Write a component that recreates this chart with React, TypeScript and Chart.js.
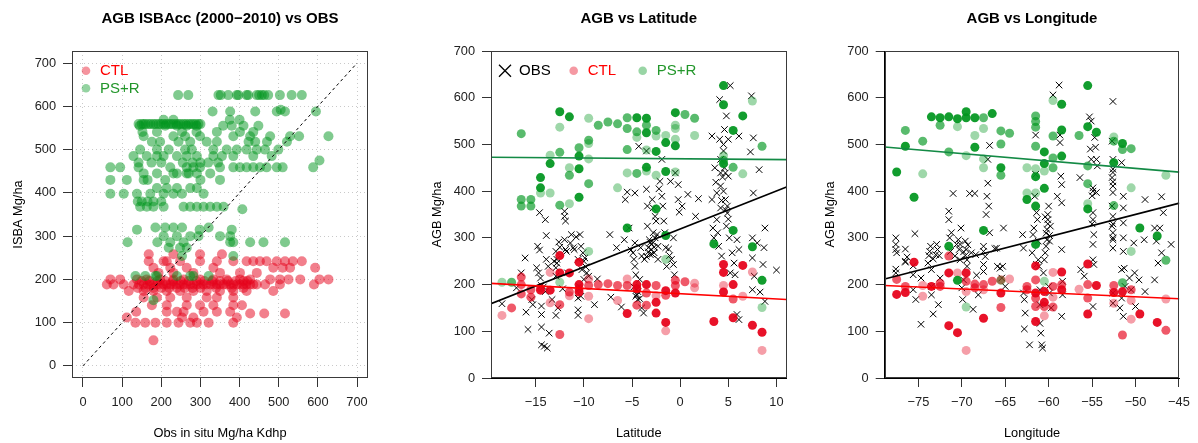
import React, { useEffect, useRef } from 'react';
import { Chart, registerables } from 'chart.js';

Chart.register(...registerables);

const FONT = '"Liberation Sans", Arial, Helvetica, sans-serif';
const MINUS = '\u2212';
const AXIS_FONT_SIZE = 12.8;

// ---------- titles / labels ----------
const TITLE_SCATTER = 'AGB ISBAcc (2000\u22122010) vs OBS';
const TITLE_LAT = 'AGB vs Latitude';
const TITLE_LON = 'AGB vs Longitude';
const SERIES_OBS = 'OBS';
const SERIES_CTL = 'CTL';
const SERIES_PSR = 'PS+R';

// ---------- ticks and ranges ----------
const OBS_TICKS = [0, 100, 200, 300, 400, 500, 600, 700];
const AGB_TICKS = [0, 100, 200, 300, 400, 500, 600, 700];
const LAT_TICKS = [-15, -10, -5, 0, 5, 10];
const LON_TICKS = [-75, -70, -65, -60, -55, -50, -45];
const SCAT_RANGE = [-28, 728];
const AGB_RANGE = [0, 700];
const LAT_RANGE = [-19.64, 11.04];
const LON_RANGE = [-78.88, -44.95];
const ONE_TO_ONE = [0, 700];

// ---------- panel 1: model (row value) vs obs (x list) ----------
const SCAT_PSR_ROWS: [number, number[]][] = [
  [626, [243, 269, 346, 352, 371, 393, 397, 418, 422, 444, 450, 457, 463, 473, 503, 533, 559]],
  [588, [331, 376, 440, 495, 516, 595]],
  [592, [505]],
  [569, [206, 231, 375, 400]],
  [559, [142, 150, 155, 160, 167, 173, 180, 186, 193, 199, 206, 212, 219, 225, 231, 238, 244, 250, 257, 263, 270, 276, 282, 288, 295, 300]],
  [555, [145, 210, 240, 265, 290, 358, 380, 410, 448]],
  [541, [152, 189, 253, 290, 342, 401, 435]],
  [531, [155, 231, 261, 299, 384, 427, 478, 529, 552, 627]],
  [518, [176, 197, 244, 274, 316, 342, 423, 440, 470, 521]],
  [500, [146, 189, 219, 261, 278, 333, 367, 393, 418, 444, 465, 499]],
  [485, [129, 163, 189, 206, 240, 265, 291, 333, 355, 384, 435, 482]],
  [470, [142, 175, 200, 255, 280, 300, 320, 345]],
  [459, [70, 95, 142, 223, 265, 282, 299, 350, 384, 401, 418, 435, 452, 469, 495, 510, 588]],
  [475, [604]],
  [445, [155, 189, 231, 240, 265, 270, 291, 325]],
  [430, [70, 112, 155, 165, 210, 300, 350]],
  [411, [189, 214, 240, 274, 291]],
  [398, [70, 104, 138, 172, 206, 231, 253, 308]],
  [380, [140, 150, 165, 180, 200]],
  [368, [146, 163, 180, 206, 257, 274, 291, 308, 325, 342, 359]],
  [362, [407]],
  [320, [185, 210, 231, 253, 321]],
  [315, [138, 298, 380]],
  [300, [206, 240, 274, 295, 350, 376]],
  [286, [114, 190, 223, 257, 376, 384, 427, 461, 516]],
  [273, [219, 248, 265]],
  [254, [253, 384]],
  [208, [134, 159, 185, 189, 240, 274, 282, 321]],
  [152, [180]],
];

const SCAT_CTL_ROWS: [number, number[]][] = [
  [258, [168, 231, 299, 355]],
  [242, [168, 206, 214, 248, 299, 342, 384, 418, 435, 452, 469, 495, 516, 536, 559]],
  [227, [180, 223, 265, 333, 486, 510, 529, 593]],
  [215, [193, 231, 282, 350, 401, 444]],
  [200, [70, 95, 138, 163, 197, 231, 257, 299, 333, 367, 401, 427, 478, 503, 525, 555, 604, 627]],
  [196, [150, 170, 190, 210, 230, 250, 270, 290, 310, 330, 350, 370, 390, 410, 420]],
  [188, [61, 78, 104, 129, 143, 155, 165, 172, 180, 189, 197, 206, 214, 223, 231, 240, 248, 257, 265, 274, 282, 291, 300, 308, 316, 325, 333, 342, 350, 359, 367, 376, 384, 393, 401, 410, 418, 427, 435, 444, 465, 503, 590]],
  [180, [140, 160, 180, 200, 220, 240, 260, 280, 300, 340, 380, 410]],
  [173, [117, 155, 180, 214, 248, 282, 316, 350, 384, 418, 486]],
  [158, [155, 189, 223, 265, 316, 342, 384]],
  [140, [176, 214, 265, 299, 333, 384, 406]],
  [125, [136, 214, 240, 257, 308, 342, 376]],
  [121, [427, 463, 516]],
  [112, [112, 253, 282, 393]],
  [100, [134, 159, 185, 214, 244, 274, 291, 321, 384]],
  [59, [180]],
];

// ---------- panel 2: latitude (lat, agb, overlap level) ----------
const LAT_PSR: [number, number, number][] = [
  [-18.5, 205, 1], [-17.5, 205, 2], [-16.5, 523, 2], [-16.5, 382, 2], [-16.5, 368, 2], [-15.5, 382, 2], [-15.5, 368, 2],
  [-14.5, 429, 3], [-14.5, 407, 3], [-14.5, 396, 1],
  [-13.5, 477, 1], [-13.5, 459, 3], [-13.5, 396, 1],
  [-12.5, 570, 3], [-12.5, 537, 1], [-12.5, 483, 2], [-12.5, 370, 2], [-12.5, 205, 1],
  [-11.5, 559, 3], [-11.5, 450, 1], [-11.5, 434, 2], [-11.5, 373, 1],
  [-10.5, 493, 2], [-10.5, 475, 3], [-10.5, 448, 3], [-10.5, 387, 3],
  [-9.5, 556, 1], [-9.5, 509, 2], [-9.5, 502, 1], [-9.5, 469, 1], [-9.5, 416, 2], [-9.5, 271, 1],
  [-8.5, 541, 2], [-7.5, 548, 2], [-6.5, 544, 2], [-6.5, 407, 1],
  [-5.5, 557, 2], [-5.5, 534, 2], [-5.5, 489, 2], [-5.5, 439, 1], [-5.5, 321, 3],
  [-4.5, 557, 3], [-4.5, 527, 2], [-4.5, 515, 1], [-4.5, 438, 2],
  [-3.5, 556, 3], [-3.5, 541, 2], [-3.5, 525, 3], [-3.5, 488, 1], [-3.5, 451, 3], [-3.5, 443, 1],
  [-2.5, 530, 2], [-2.5, 518, 1], [-2.5, 485, 3], [-2.5, 434, 1], [-2.5, 362, 3],
  [-1.5, 519, 1], [-1.5, 504, 3], [-1.5, 442, 3], [-1.5, 305, 3], [-1.5, 254, 1],
  [-0.5, 568, 3], [-0.5, 541, 1], [-0.5, 534, 1], [-0.5, 511, 1], [-0.5, 497, 3], [-0.5, 441, 1],
  [0.5, 564, 2], [1.5, 556, 2], [1.5, 519, 1],
  [3.5, 287, 3],
  [4.5, 626, 3], [4.5, 585, 3], [4.5, 476, 1], [4.5, 466, 2], [4.5, 459, 3],
  [5.5, 530, 3], [5.5, 451, 2], [5.5, 316, 3],
  [6.5, 561, 3], [6.5, 437, 1],
  [7.5, 593, 1], [7.5, 281, 3],
  [8.5, 496, 2], [8.5, 209, 3], [8.5, 151, 1],
];

const LAT_CTL: [number, number, number][] = [
  [-18.5, 134, 1], [-17.5, 150, 2], [-16.5, 216, 2], [-16.5, 200, 2], [-16.5, 180, 2],
  [-15.5, 189, 2], [-15.5, 173, 2],
  [-14.5, 188, 3], [-14.5, 193, 2],
  [-13.5, 226, 1], [-13.5, 188, 3], [-13.5, 161, 1],
  [-12.5, 262, 3], [-12.5, 225, 3], [-12.5, 157, 2], [-12.5, 93, 2],
  [-11.5, 225, 3], [-11.5, 184, 2], [-11.5, 176, 1],
  [-10.5, 248, 3], [-10.5, 200, 3], [-10.5, 184, 3], [-10.5, 191, 2],
  [-9.5, 212, 1], [-9.5, 198, 2], [-9.5, 175, 1], [-9.5, 127, 1],
  [-8.5, 200, 2], [-7.5, 202, 2],
  [-6.5, 198, 2], [-6.5, 166, 1],
  [-5.5, 212, 1], [-5.5, 198, 2], [-5.5, 138, 3],
  [-4.5, 200, 3], [-4.5, 191, 3], [-4.5, 156, 2],
  [-3.5, 200, 3], [-3.5, 182, 2], [-3.5, 156, 2],
  [-2.5, 198, 2], [-2.5, 176, 1], [-2.5, 162, 3], [-2.5, 139, 3],
  [-1.5, 187, 3], [-1.5, 177, 2], [-1.5, 119, 3], [-1.5, 101, 1],
  [-0.5, 209, 2], [-0.5, 198, 2], [-0.5, 182, 3],
  [0.5, 206, 2], [1.5, 203, 1], [1.5, 193, 1],
  [3.5, 121, 3],
  [4.5, 243, 3], [4.5, 226, 3], [4.5, 198, 1], [4.5, 184, 3],
  [5.5, 200, 3], [5.5, 169, 2], [5.5, 129, 3],
  [6.5, 241, 3], [6.5, 175, 1],
  [7.5, 227, 1], [7.5, 113, 3],
  [8.5, 98, 3], [8.5, 59, 1],
];

const LAT_OBS: [number, number][] = [
  [-18.5, 159], [-17.0, 193], [-16.5, 225], [-16.1, 257], [-16.0, 141], [-15.8, 104], [-15.4, 168], [-15.3, 157],
  [-14.8, 282], [-14.6, 274], [-14.6, 354], [-14.9, 236], [-14.7, 225], [-14.5, 214], [-14.4, 198], [-14.4, 154], [-14.4, 136], [-14.4, 109], [-14.4, 71], [-14.1, 68], [-14.0, 339], [-13.9, 305], [-13.9, 254], [-13.7, 239], [-13.6, 96], [-13.8, 64], [-13.3, 168], [-13.1, 250],
  [-12.9, 236], [-12.8, 246], [-12.9, 271], [-12.8, 254], [-12.9, 218], [-12.9, 134], [-12.7, 150], [-12.6, 291], [-12.2, 191], [-12.0, 296], [-12.0, 357], [-12.0, 346], [-11.9, 336], [-11.8, 271], [-11.7, 225], [-11.4, 289], [-11.3, 307], [-11.1, 279], [-11.0, 275], [-10.8, 302], [-10.6, 254], [-10.6, 171], [-10.6, 146], [-10.6, 134], [-10.5, 196], [-10.4, 307], [-10.3, 282], [-10.2, 232], [-10.1, 268], [-10.0, 211], [-9.9, 257], [-9.8, 238], [-9.7, 225], [-9.5, 218], [-8.9, 157], [-8.6, 212], [-7.3, 307], [-7.2, 173], [-6.6, 279], [-6.1, 152],
  [-5.8, 296], [-5.7, 382], [-5.5, 398], [-5.3, 321], [-5.1, 274], [-4.9, 268], [-4.8, 254], [-4.7, 289], [-4.7, 396], [-4.7, 239], [-4.6, 221], [-4.5, 189], [-4.5, 179], [-4.4, 168], [-4.3, 496], [-4.2, 211], [-4.1, 279], [-4.0, 261], [-4.0, 150], [-3.8, 139], [-3.7, 254], [-3.5, 486], [-3.5, 404], [-3.4, 368], [-3.4, 325], [-3.3, 279], [-3.2, 296], [-3.1, 264], [-3.0, 286], [-2.9, 382], [-2.8, 364], [-2.8, 311], [-2.7, 268], [-2.6, 346], [-2.5, 336], [-2.4, 307], [-2.3, 282], [-2.3, 254], [-2.2, 405], [-2.1, 421], [-1.9, 468], [-1.9, 389], [-1.8, 368], [-1.7, 336], [-1.6, 311], [-1.5, 279], [-1.4, 239], [-1.2, 276], [-1.1, 262], [-1.0, 421], [-0.9, 254], [-0.7, 243], [-0.7, 300], [-0.6, 221], [-0.5, 439], [-0.2, 414], [-0.2, 382], [-0.1, 355], [0.2, 368], [0.8, 393], [1.6, 346], [1.9, 384],
  [3.3, 518], [3.3, 382], [3.4, 321], [3.5, 300], [3.6, 450], [3.7, 419], [3.8, 396], [3.8, 339], [3.9, 311], [4.0, 282], [4.1, 596], [4.1, 511], [4.2, 468], [4.2, 439], [4.2, 411], [4.2, 364], [4.3, 261], [4.5, 500], [4.5, 486], [4.6, 532], [4.7, 439], [4.7, 382], [4.8, 561], [4.8, 325], [4.9, 368], [4.9, 353], [5.0, 511], [5.0, 432], [5.1, 300], [5.2, 626], [5.2, 225], [5.4, 268], [5.6, 246], [5.7, 221], [5.9, 296], [6.1, 518], [6.1, 275], [6.1, 125], [5.9, 136],
  [7.3, 484], [7.4, 604], [7.5, 300], [7.5, 257], [7.6, 396], [7.6, 514], [7.5, 189], [7.7, 218], [8.0, 289], [8.2, 446], [8.3, 184], [8.6, 243], [8.7, 279], [8.8, 321], [8.8, 164], [10.0, 231],
  [-3.3, 270], [-3.0, 275], [-2.8, 290], [-2.6, 300], [-3.5, 260], [-2.7, 280], [-3.1, 290], [-2.9, 265], [-4.4, 185], [-4.6, 175], [-4.8, 195], [-4.2, 170], [-10.5, 190], [-10.3, 175], [-10.0, 250], [-11.9, 275], [-12.5, 280], [-14.2, 195], [-14.0, 185], [4.5, 400], [4.3, 380], [4.7, 360], [5.0, 340], [4.4, 430], [4.6, 450],
];

// regression lines: [intercept, slope]
const LAT_FIT_OBS = [318.8, 8.136];
const LAT_FIT_CTL = [180.4, -1.1245];
const LAT_FIT_PSR = [469.2, -0.163];

// ---------- panel 3: longitude ----------
const LON_PSR: [number, number, number][] = [
  [-77.5, 441, 3],
  [-76.5, 530, 2], [-76.5, 496, 3],
  [-75.5, 387, 3],
  [-74.5, 507, 2], [-74.5, 437, 1],
  [-73.5, 559, 3],
  [-72.5, 557, 3], [-72.5, 541, 2],
  [-71.5, 559, 3], [-71.5, 484, 2], [-71.5, 282, 3],
  [-70.5, 555, 3], [-70.5, 538, 1], [-70.5, 209, 3],
  [-69.5, 570, 3], [-69.5, 557, 3], [-69.5, 476, 1], [-69.5, 152, 1],
  [-68.5, 557, 3], [-68.5, 519, 1], [-68.5, 494, 3],
  [-67.5, 557, 2], [-67.5, 534, 1], [-67.5, 469, 1], [-67.5, 450, 1], [-67.5, 316, 3],
  [-66.5, 566, 3],
  [-65.5, 529, 2], [-65.5, 501, 2], [-65.5, 450, 3], [-65.5, 434, 2], [-65.5, 209, 1],
  [-64.5, 524, 2],
  [-62.5, 450, 1], [-62.5, 396, 1], [-62.5, 382, 3],
  [-61.5, 561, 2], [-61.5, 549, 2], [-61.5, 537, 2], [-61.5, 496, 2], [-61.5, 448, 1], [-61.5, 431, 3], [-61.5, 396, 1], [-61.5, 368, 3], [-61.5, 286, 3],
  [-60.5, 484, 3], [-60.5, 459, 3], [-60.5, 443, 1], [-60.5, 406, 3], [-60.5, 207, 1],
  [-59.5, 594, 1], [-59.5, 518, 2], [-59.5, 471, 2], [-59.5, 450, 2],
  [-58.5, 586, 3], [-58.5, 531, 3], [-58.5, 475, 3],
  [-56.5, 519, 2],
  [-55.5, 626, 3], [-55.5, 538, 3], [-55.5, 454, 2], [-55.5, 416, 2], [-55.5, 373, 1], [-55.5, 362, 3],
  [-54.5, 526, 3],
  [-52.5, 516, 1], [-52.5, 507, 2], [-52.5, 461, 3], [-52.5, 369, 2],
  [-51.5, 502, 3], [-51.5, 489, 2], [-51.5, 204, 2],
  [-50.5, 491, 2], [-50.5, 407, 1], [-50.5, 271, 1],
  [-49.5, 321, 3],
  [-47.5, 304, 3],
  [-46.5, 434, 1], [-46.5, 252, 2],
];

const LON_CTL: [number, number, number][] = [
  [-77.5, 211, 2], [-77.5, 179, 3],
  [-76.5, 196, 2], [-76.5, 183, 3],
  [-75.5, 248, 3],
  [-74.5, 198, 1], [-74.5, 175, 1],
  [-73.5, 196, 3],
  [-72.5, 203, 2], [-72.5, 196, 2],
  [-71.5, 261, 2], [-71.5, 225, 3], [-71.5, 112, 3],
  [-70.5, 225, 1], [-70.5, 97, 3],
  [-69.5, 225, 3], [-69.5, 207, 2], [-69.5, 185, 1], [-69.5, 59, 1],
  [-68.5, 201, 2], [-68.5, 193, 2],
  [-67.5, 200, 2], [-67.5, 189, 1], [-67.5, 128, 3],
  [-66.5, 207, 2],
  [-65.5, 210, 2], [-65.5, 182, 3], [-65.5, 151, 2],
  [-64.5, 212, 1],
  [-62.5, 196, 2], [-62.5, 189, 2],
  [-61.5, 240, 3], [-61.5, 210, 2], [-61.5, 182, 3], [-61.5, 171, 2], [-61.5, 153, 2], [-61.5, 121, 3],
  [-60.5, 185, 3], [-60.5, 162, 3], [-60.5, 153, 2], [-60.5, 133, 1],
  [-59.5, 226, 1], [-59.5, 196, 2], [-59.5, 173, 1], [-59.5, 152, 2],
  [-58.5, 227, 3], [-58.5, 200, 2], [-58.5, 189, 3],
  [-56.5, 190, 1],
  [-55.5, 244, 3], [-55.5, 200, 2], [-55.5, 171, 2], [-55.5, 137, 3],
  [-54.5, 198, 3],
  [-52.5, 198, 2], [-52.5, 183, 3], [-52.5, 160, 1],
  [-51.5, 185, 3], [-51.5, 92, 2],
  [-50.5, 189, 2], [-50.5, 166, 1], [-50.5, 126, 1],
  [-49.5, 137, 3],
  [-47.5, 119, 3],
  [-46.5, 169, 1], [-46.5, 102, 2],
];

const LON_OBS: [number, number][] = [
  [-77.6, 300], [-77.6, 286], [-77.6, 275], [-77.5, 268], [-77.6, 233], [-77.6, 225],
  [-76.5, 276], [-76.5, 250], [-76.3, 259], [-76.5, 248], [-75.4, 309], [-75.6, 240], [-75.6, 221], [-75.6, 189], [-74.7, 115], [-74.7, 214], [-75.3, 168],
  [-73.9, 246], [-73.7, 271], [-73.6, 282], [-73.5, 232], [-73.5, 196], [-73.5, 178], [-73.3, 137], [-73.0, 264], [-72.9, 286], [-72.7, 157], [-72.5, 214], [-72.8, 275],
  [-71.5, 357], [-71.5, 339], [-71.4, 300], [-71.3, 271], [-71.2, 311], [-71.0, 395], [-70.8, 261], [-70.6, 286], [-70.4, 296], [-70.2, 286], [-70.1, 321], [-70.2, 253], [-70.0, 193], [-69.9, 168], [-69.8, 210], [-69.6, 293], [-69.5, 275], [-69.4, 253], [-69.4, 239], [-69.1, 395], [-68.9, 268], [-68.5, 395], [-68.4, 264], [-68.7, 147], [-68.3, 220], [-68.1, 178],
  [-67.5, 282], [-67.5, 271], [-67.3, 260], [-67.5, 243], [-67.5, 228], [-67.2, 350], [-67.1, 389], [-67.0, 417], [-66.9, 368], [-66.8, 498], [-66.8, 311], [-67.0, 468], [-66.2, 277], [-66.0, 278], [-65.9, 239], [-65.6, 235], [-65.4, 214], [-65.2, 321], [-65.3, 239], [-65.0, 196],
  [-63.0, 307], [-62.9, 278], [-62.9, 182], [-62.8, 168], [-62.7, 139], [-62.8, 105], [-62.2, 71], [-61.9, 268], [-61.8, 307], [-61.7, 321], [-61.6, 389], [-61.5, 520], [-61.5, 436], [-61.4, 354], [-61.3, 339], [-61.2, 293], [-61.2, 253], [-61.1, 239], [-61.0, 189], [-61.0, 157], [-61.0, 117], [-60.9, 96], [-60.8, 71], [-60.7, 64], [-60.6, 225], [-60.5, 253], [-60.4, 268], [-60.3, 282], [-60.2, 296], [-60.2, 318], [-60.1, 339], [-60.1, 350], [-60.0, 368], [-60.0, 196], [-59.9, 182], [-59.9, 293], [-59.8, 325], [-59.7, 150], [-59.5, 606], [-59.0, 389], [-58.8, 627], [-58.7, 520], [-58.7, 504], [-58.6, 432], [-58.5, 414], [-58.5, 375], [-58.5, 275], [-58.4, 207], [-58.5, 132], [-58.4, 178],
  [-56.4, 429], [-56.3, 232], [-55.9, 218], [-55.3, 559], [-55.1, 550], [-55.2, 490], [-55.1, 468], [-54.9, 407], [-54.9, 400], [-54.9, 354], [-54.9, 339], [-54.8, 307], [-54.9, 286], [-54.9, 253], [-54.8, 243], [-54.9, 153], [-54.7, 515], [-54.6, 494], [-54.5, 468], [-54.5, 397], [-54.4, 454],
  [-52.6, 592], [-52.7, 507], [-52.6, 468], [-52.6, 447], [-52.7, 429], [-52.6, 411], [-52.6, 397], [-52.7, 368], [-52.6, 346], [-52.7, 325], [-52.6, 311], [-52.6, 296], [-52.6, 278], [-52.6, 182], [-52.6, 160], [-51.8, 150], [-51.6, 232], [-51.6, 461], [-51.4, 389], [-51.4, 364], [-51.4, 332], [-51.4, 300], [-51.4, 271], [-51.3, 235], [-51.2, 196], [-51.6, 171], [-51.4, 132],
  [-50.7, 214], [-50.5, 189], [-50.2, 289], [-50.1, 225], [-50.0, 153], [-49.6, 210], [-48.9, 382], [-49.0, 296], [-48.9, 185], [-47.8, 321], [-47.8, 210], [-47.6, 293], [-47.4, 246], [-47.0, 268], [-47.0, 388], [-47.2, 321], [-46.8, 354], [-45.9, 286],
  [-69.8, 270], [-69.6, 262], [-70.3, 275], [-69.3, 285], [-60.3, 310], [-60.1, 330], [-60.4, 345], [-59.9, 305], [-52.6, 300], [-52.6, 330], [-52.6, 420], [-52.6, 440], [-73.3, 255], [-72.6, 262], [-73.8, 262], [-61.4, 243], [-55.0, 390], [-55.0, 330],
];

const LON_FIT_OBS = [589.3, 4.783];
const LON_FIT_CTL = [131.98, -0.837];
const LON_FIT_PSR = [369.6, -1.583];

// ---------- styling ----------
const RED = [230, 0, 25];
const GREEN = [0, 150, 30];
const LEVEL_ALPHA = [0, 0.38, 0.65, 0.93];

const rgba = (c: number[], a: number) => `rgba(${c[0]},${c[1]},${c[2]},${a})`;
const fmt = (v: number) => (v < 0 ? MINUS + Math.abs(v) : String(v));

const plotBox = {
  id: 'plotBox',
  afterDatasetsDraw(chart: any) {
    const { ctx, chartArea } = chart;
    const l = Math.round(chartArea.left) + 0.5;
    const t = Math.round(chartArea.top) + 0.5;
    const r = Math.round(chartArea.right) - 0.5;
    const b = Math.round(chartArea.bottom) - 0.5;
    ctx.save();
    ctx.strokeStyle = '#3a3a3a';
    ctx.lineWidth = 1;
    ctx.setLineDash([]);
    ctx.strokeRect(l, t, r - l, b - t);
    ctx.restore();
  },
};

const insetLegend = {
  id: 'insetLegend',
  afterDraw(chart: any, _args: any, opts: any) {
    if (!opts || !opts.items) return;
    const { ctx, chartArea } = chart;
    ctx.save();
    ctx.font = `15px ${FONT}`;
    ctx.textBaseline = 'middle';
    ctx.textAlign = 'left';
    for (const it of opts.items) {
      const x = chartArea.left + it.dx;
      const y = chartArea.top + it.dy;
      if (it.marker === 'cross') {
        ctx.strokeStyle = it.color;
        ctx.lineWidth = 1.3;
        ctx.beginPath();
        ctx.moveTo(x - 6, y - 6);
        ctx.lineTo(x + 6, y + 6);
        ctx.moveTo(x - 6, y + 6);
        ctx.lineTo(x + 6, y - 6);
        ctx.stroke();
      } else {
        ctx.fillStyle = it.color;
        ctx.beginPath();
        ctx.arc(x, y, 4.3, 0, Math.PI * 2);
        ctx.fill();
      }
      ctx.fillStyle = it.textColor;
      ctx.fillText(it.label, x + 14, y + 0.5);
    }
    ctx.restore();
  },
};

function xAxis(range: number[], ticks: number[], title: string, gridOnArea: boolean, border: boolean) {
  return {
    type: 'linear',
    position: 'bottom',
    min: range[0],
    max: range[1],
    afterBuildTicks: (s: any) => { s.ticks = ticks.map((v) => ({ value: v })); },
    afterFit: (s: any) => { s.height = 65; },
    ticks: {
      callback: (v: any) => fmt(Number(v)),
      color: '#222',
      font: { family: FONT, size: AXIS_FONT_SIZE },
      padding: 8.2,
      maxRotation: 0,
      minRotation: 0,
      autoSkip: false,
    },
    grid: {
      display: true,
      drawOnChartArea: gridOnArea,
      color: '#c9c9c9',
      lineWidth: 1,
      drawTicks: true,
      tickLength: 9,
      tickColor: '#333',
      tickWidth: 1,
      tickBorderDash: [],
    },
    border: { display: border, color: '#000', width: 1, dash: gridOnArea ? [1, 3] : [] },
    title: { display: true, text: title, color: '#000', font: { family: FONT, size: AXIS_FONT_SIZE }, padding: { top: 0, bottom: 2.3 } },
  };
}

function yAxis(range: number[], ticks: number[], title: string, gridOnArea: boolean, border: boolean) {
  return {
    type: 'linear',
    position: 'left',
    min: range[0],
    max: range[1],
    afterBuildTicks: (s: any) => { s.ticks = ticks.map((v) => ({ value: v })); },
    afterFit: (s: any) => { s.width = 72; },
    ticks: {
      callback: (v: any) => fmt(Number(v)),
      color: '#222',
      font: { family: FONT, size: AXIS_FONT_SIZE },
      padding: 7,
      autoSkip: false,
    },
    grid: {
      display: true,
      drawOnChartArea: gridOnArea,
      color: '#c9c9c9',
      lineWidth: 1,
      drawTicks: true,
      tickLength: 9,
      tickColor: '#333',
      tickWidth: 1,
      tickBorderDash: [],
    },
    border: { display: border, color: '#000', width: 1, dash: gridOnArea ? [1, 3] : [] },
    title: { display: true, text: title, color: '#000', font: { family: FONT, size: AXIS_FONT_SIZE }, padding: { top: 10.3, bottom: 0 } },
  };
}

function titleOpts(text: string) {
  return {
    display: true,
    text,
    color: '#000',
    fullSize: false,
    font: { family: FONT, size: 15, weight: 'bold' },
    padding: { top: 10, bottom: 23 },
  };
}

function baseOptions(padLeft: number, padRight: number, title: string, legendItems: any[] | null, scales: any) {
  return {
    responsive: false,
    animation: false,
    events: [],
    layout: { padding: { left: padLeft, right: padRight, top: 0, bottom: 0 } },
    plugins: {
      legend: { display: false },
      tooltip: { enabled: false },
      title: titleOpts(title),
      insetLegend: { items: legendItems },
    },
    scales,
  };
}

function levelDataset(label: string, pts: [number, number, number][], color: number[], order: number) {
  return {
    label,
    order,
    data: pts.map((p) => ({ x: p[0], y: p[1] })),
    pointStyle: 'circle',
    pointRadius: 4.5,
    pointBorderWidth: 0,
    backgroundColor: pts.map((p) => rgba(color, LEVEL_ALPHA[p[2]])),
    borderColor: 'rgba(0,0,0,0)',
    showLine: false,
  };
}

function obsDataset(pts: [number, number][]) {
  return {
    label: SERIES_OBS,
    order: 3,
    data: pts.map((p) => ({ x: p[0], y: p[1] })),
    pointStyle: 'crossRot',
    pointRadius: 4.6,
    pointBorderWidth: 1,
    borderColor: '#000',
    backgroundColor: '#000',
    showLine: false,
  };
}

function fitDataset(label: string, fit: number[], range: number[], color: string) {
  return {
    label,
    order: 0,
    data: range.map((x) => ({ x, y: fit[0] + fit[1] * x })),
    showLine: true,
    borderColor: color,
    borderWidth: 1.6,
    pointRadius: 0,
    fill: false,
  };
}

function buildScatter() {
  const rows = (r: [number, number[]][]) => r.flatMap(([y, xs]) => xs.map((x) => ({ x, y })));
  return {
    type: 'scatter',
    data: {
      datasets: [
        {
          label: '1:1',
          order: 0,
          data: ONE_TO_ONE.map((v) => ({ x: v, y: v })),
          showLine: true,
          borderColor: '#000',
          borderWidth: 1,
          borderDash: [3, 3],
          pointRadius: 0,
        },
        {
          label: SERIES_PSR,
          order: 1,
          data: rows(SCAT_PSR_ROWS),
          pointRadius: 5,
          pointBorderWidth: 0,
          backgroundColor: rgba(GREEN, 0.5),
          borderColor: 'rgba(0,0,0,0)',
        },
        {
          label: SERIES_CTL,
          order: 2,
          data: rows(SCAT_CTL_ROWS),
          pointRadius: 5,
          pointBorderWidth: 0,
          backgroundColor: rgba(RED, 0.5),
          borderColor: 'rgba(0,0,0,0)',
        },
      ],
    },
    options: baseOptions(0, 32, TITLE_SCATTER, [
      { label: SERIES_CTL, marker: 'circle', color: rgba(RED, 0.42), textColor: '#ff0000', dx: 14, dy: 19.7 },
      { label: SERIES_PSR, marker: 'circle', color: rgba(GREEN, 0.42), textColor: '#22962a', dx: 14, dy: 37.3 },
    ], {
      x: xAxis(SCAT_RANGE, OBS_TICKS, 'Obs in situ Mg/ha Kdhp', true, false),
      y: yAxis(SCAT_RANGE, AGB_TICKS, 'ISBA Mg/ha', true, false),
    }),
    plugins: [plotBox, insetLegend],
  };
}

function buildLat() {
  return {
    type: 'scatter',
    data: {
      datasets: [
        fitDataset('fit PS+R', LAT_FIT_PSR, LAT_RANGE, '#138a45'),
        fitDataset('fit CTL', LAT_FIT_CTL, LAT_RANGE, '#ff0000'),
        fitDataset('fit OBS', LAT_FIT_OBS, LAT_RANGE, '#000'),
        levelDataset(SERIES_PSR, LAT_PSR, GREEN, 1),
        levelDataset(SERIES_CTL, LAT_CTL, RED, 2),
        obsDataset(LAT_OBS),
      ],
    },
    options: baseOptions(19, 11.5, TITLE_LAT, [
      { label: SERIES_OBS, marker: 'cross', color: '#000', textColor: '#000', dx: 14, dy: 19.7 },
      { label: SERIES_CTL, marker: 'circle', color: rgba(RED, 0.4), textColor: '#ff0000', dx: 82.7, dy: 19.7 },
      { label: SERIES_PSR, marker: 'circle', color: rgba(GREEN, 0.4), textColor: '#22962a', dx: 151.7, dy: 19.7 },
    ], {
      x: xAxis(LAT_RANGE, LAT_TICKS, 'Latitude', false, true),
      y: yAxis(AGB_RANGE, AGB_TICKS, 'AGB Mg/ha', false, true),
    }),
    plugins: [plotBox, insetLegend],
  };
}

function buildLon() {
  return {
    type: 'scatter',
    data: {
      datasets: [
        fitDataset('fit PS+R', LON_FIT_PSR, LON_RANGE, '#138a45'),
        fitDataset('fit CTL', LON_FIT_CTL, LON_RANGE, '#ff0000'),
        fitDataset('fit OBS', LON_FIT_OBS, LON_RANGE, '#000'),
        levelDataset(SERIES_PSR, LON_PSR, GREEN, 1),
        levelDataset(SERIES_CTL, LON_CTL, RED, 2),
        obsDataset(LON_OBS),
      ],
    },
    options: baseOptions(14.7, 17.7, TITLE_LON, null, {
      x: xAxis(LON_RANGE, LON_TICKS, 'Longitude', false, true),
      y: yAxis(AGB_RANGE, AGB_TICKS, 'AGB Mg/ha', false, true),
    }),
    plugins: [plotBox, insetLegend],
  };
}

function ChartPanel({ left, width, build }: { left: number; width: number; build: () => any }) {
  const ref = useRef<HTMLCanvasElement | null>(null);
  useEffect(() => {
    if (!ref.current) return;
    const chart = new Chart(ref.current, build());
    return () => chart.destroy();
  }, []);
  return (
    <canvas
      ref={ref}
      width={width}
      height={443}
      style={{ position: 'absolute', left, top: 0, width, height: 443 }}
    />
  );
}

export default function App() {
  return (
    <div style={{ position: 'absolute', left: 0, top: 0, width: 1198, height: 443, background: '#fff' }}>
      <ChartPanel left={0} width={400} build={buildScatter} />
      <ChartPanel left={400} width={398} build={buildLat} />
      <ChartPanel left={798} width={400} build={buildLon} />
    </div>
  );
}
